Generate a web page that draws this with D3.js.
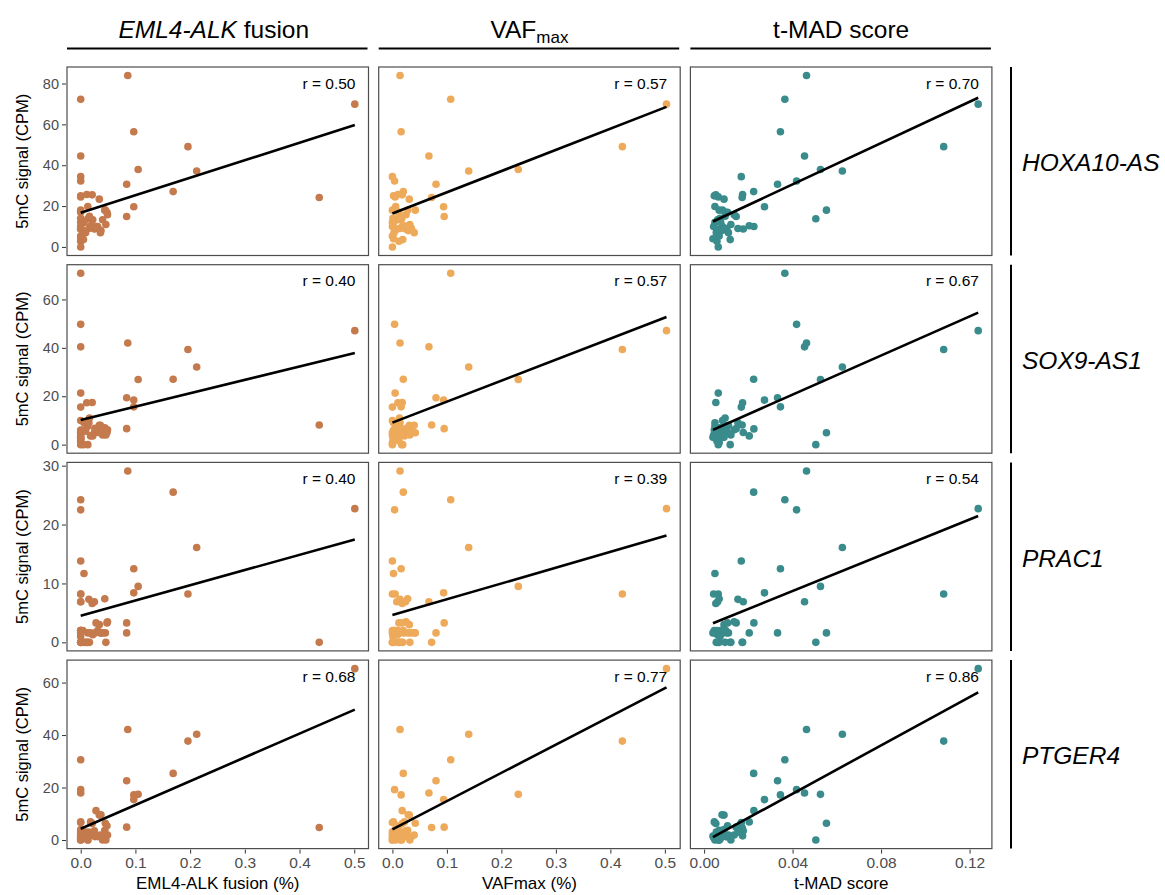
<!DOCTYPE html>
<html>
<head>
<meta charset="utf-8">
<script src="https://cdn.jsdelivr.net/npm/d3@7"></script>
<style>
  body { margin: 0; background: #fff; }
  text { font-family: "Liberation Sans", Arial, Helvetica, sans-serif; }
</style>
</head>
<body>
<svg id="chart" width="1165" height="895"></svg>
<script>
// ---- per-sample measurements (one entry per patient sample) ----
const emlAlk = [0.501,0.436,0,0.086,0.097,0.097,0.196,0.212,0.169,0.105,0.084,0.084,0,0,0,0.045,0.013,
  0,0,0,0,0.021,0.034,0.013,0.044,0.048,0.049,0.006,0.022,0.031,0.040,0.004,0,0,0,0,0.005,0,
  0.015,0.025,0.018,0.028,0.011,0.037,0.026,0.036,0,0,0.009,0,0.046,0.016,0];
const vafMax = [0.503,0.072,0.107,0.014,0.016,0.094,0.422,0.140,0.020,0.231,0.080,0.095,0.067,0.004,0,0.042,0.017,
  0.002,0.005,0,0.010,0.018,0.031,0.006,0.028,0.012,0.025,0.002,0.009,0.020,0.015,0.004,0,0.008,0,0.012,0.019,0,
  0.014,0.024,0.022,0.018,0.010,0.029,0.035,0.040,0,0.005,0.003,0.001,0.032,0.013,0.002];
const tmadScore = [0.1239,0.0172,0.0365,0.0463,0.0345,0.0273,0.1083,0.0625,0.0224,0.0526,0.0332,0.0145,0.0454,0.0418,0.0168,0.0553,0.0505,
  0.0046,0.0064,0.0083,0.0098,0.0053,0.0090,0.0049,0.0068,0.0106,0.0136,0.0049,0.0061,0.0083,0.0068,0.0058,0.0043,0.0061,0.0068,0.0058,0.0118,0.0064,
  0.0153,0.0177,0.0204,0.0225,0.0174,0.0081,0.0102,0.0110,0.0075,0.0090,0.0055,0.0072,0.0121,0.0095,0.0040];

// 5mC signal (CPM) per gene, same sample order
const hoxa10as = [69.9,24.2,72.3,83.9,56.4,19.7,49.1,37.2,27.1,37.9,30.7,14.9,44.5,32.3,34.4,18.0,13.8,
  25.0,24.5,18.0,17.0,25.5,23.4,19.8,18.0,17.0,15.8,12.0,13.3,10.0,13.3,8.0,10.0,8.6,5.3,2.8,3.6,0.0,
  9.0,8.8,10.4,10.0,25.7,8.0,9.0,7.0,12.0,9.0,7.0,14.0,11.0,15.0,4.0];
const sox9as1 = [47.1,8.1,70.8,42.0,15.6,18.4,39.3,32.1,27.0,26.9,19.4,6.6,40.4,49.7,15.5,4.9,0,
  6.0,21.3,10.0,5.0,17.4,8.0,7.6,7.0,5.0,6.1,9.0,3.6,5.0,4.0,6.0,4.0,2.0,0.8,1.5,0.0,0.0,
  9.0,5.0,3.6,6.5,17.3,7.0,6.7,8.0,5.0,3.0,5.5,2.5,4.0,11.0,3.0];
const prac1 = [22.7,0.0,24.2,29.1,12.5,8.4,8.2,16.1,25.5,9.5,1.6,3.3,6.9,22.5,13.8,1.6,0,
  2.0,8.2,1.6,2.0,6.6,3.0,1.6,7.4,3.3,3.5,11.7,1.3,2.0,1.6,2.0,8.2,6.9,0.0,0.0,0.0,0.0,
  7.3,6.9,1.6,3.3,0.0,1.6,1.6,1.6,2.0,2.0,0.0,1.0,0.0,0.0,1.6];
const ptger4 = [65.3,4.8,30.6,42.1,17.2,15.4,37.7,40.3,25.4,17.4,22.6,4.9,17.9,19.2,6.7,6.4,0,
  6.9,2.0,3.1,1.3,6.3,9.5,0.0,3.7,5.4,1.9,1.0,1.9,1.3,0.0,2.0,1.0,0.5,0.0,0.5,1.0,0.0,
  3.0,3.5,6.9,11.2,1.6,9.6,1.3,1.9,2.0,4.0,3.0,0.3,0.0,1.5,1.5];

// Pearson r printed in each panel (rows = genes, columns = predictors)
const rLabels = [
  ["0.50", "0.57", "0.70"],
  ["0.40", "0.57", "0.67"],
  ["0.40", "0.39", "0.54"],
  ["0.68", "0.77", "0.86"]
];

const geneNames = ["HOXA10-AS", "SOX9-AS1", "PRAC1", "PTGER4"];
const xAxisTitles = ["EML4-ALK fusion (%)", "VAFmax (%)", "t-MAD score"];
const yTickValues = [[0,20,40,60,80],[0,20,40,60],[0,10,20,30],[0,20,40,60]];
const xTickValues = [[0,0.1,0.2,0.3,0.4,0.5],[0,0.1,0.2,0.3,0.4,0.5],[0,0.04,0.08,0.12]];
const xTickFormats = [".1f", ".1f", ".2f"];

const predictors = [emlAlk, vafMax, tmadScore];
const genes = [hoxa10as, sox9as1, prac1, ptger4];
const colours = ["#C47A4D", "#EEAA5B", "#3A8B8B"];

// ---- layout ----
const svg = d3.select("#chart");
const left0 = 67, colStep = 311.7, panelW = 301.5;
const top0 = 67, rowStep = 197.7, panelH = 188.5;
const FONT = '"Liberation Sans", Arial, sans-serif';

// ggplot-style 5% expansion around [0, max]
const expand = arr => { const m = d3.max(arr); return [-0.05 * m, 1.05 * m]; };
const xScales = predictors.map((p, c) =>
  d3.scaleLinear().domain(expand(p)).range([left0 + c * colStep, left0 + c * colStep + panelW]));
const yScales = genes.map((g, r) =>
  d3.scaleLinear().domain(expand(g)).range([top0 + r * rowStep + panelH, top0 + r * rowStep]));

// ---- column headers ----
const headerG = svg.append("g");
xScales.forEach((xs, c) => {
  const [a, b] = xs.range();
  headerG.append("line").attr("x1", a).attr("x2", b - 1).attr("y1", 48.5).attr("y2", 48.5)
    .attr("stroke", "#000").attr("stroke-width", 2);
});
{
  const cx = c => (xScales[c].range()[0] + xScales[c].range()[1]) / 2;
  const t0 = headerG.append("text").attr("x", cx(0) - 4).attr("y", 37.5).attr("text-anchor", "middle")
    .attr("font-size", 24.5).attr("fill", "#000");
  t0.append("tspan").attr("font-style", "italic").text("EML4-ALK");
  t0.append("tspan").text(" fusion");
  const t1 = headerG.append("text").attr("x", cx(1)).attr("y", 37.5).attr("text-anchor", "middle")
    .attr("font-size", 24.5).attr("fill", "#000");
  t1.append("tspan").text("VAF");
  t1.append("tspan").attr("font-size", 17).attr("dy", 5).text("max");
  headerG.append("text").attr("x", cx(2)).attr("y", 37.5).attr("text-anchor", "middle")
    .attr("font-size", 24.5).attr("fill", "#000").text("t-MAD score");
}

// ---- panels ----
genes.forEach((g, r) => {
  const ys = yScales[r];
  predictors.forEach((p, c) => {
    const xs = xScales[c];
    const [x0, x1] = xs.range();
    const [yb, yt] = ys.range();
    const panel = svg.append("g");

    const pts = p.map((v, i) => ({ x: v, y: g[i] }));
    panel.selectAll("circle").data(pts).join("circle")
      .attr("cx", d => xs(d.x)).attr("cy", d => ys(d.y)).attr("r", 3.8)
      .attr("fill", colours[c]);

    // least-squares fit across the observed x range
    const mx = d3.mean(pts, d => d.x), my = d3.mean(pts, d => d.y);
    const sxy = d3.sum(pts, d => (d.x - mx) * (d.y - my));
    const sxx = d3.sum(pts, d => (d.x - mx) ** 2);
    const slope = sxy / sxx, icpt = my - slope * mx;
    const [lo, hi] = d3.extent(pts, d => d.x);
    panel.append("line")
      .attr("x1", xs(lo)).attr("y1", ys(icpt + slope * lo))
      .attr("x2", xs(hi)).attr("y2", ys(icpt + slope * hi))
      .attr("stroke", "#000").attr("stroke-width", 2.6);

    panel.append("rect").attr("x", x0).attr("y", yt).attr("width", x1 - x0).attr("height", yb - yt)
      .attr("fill", "none").attr("stroke", "#4d4d4d").attr("stroke-width", 1.2);

    panel.append("text").attr("x", x1 - 13).attr("y", yt + 21.5).attr("text-anchor", "end")
      .attr("font-size", 15.5).attr("fill", "#000").text("r = " + rLabels[r][c]);

    if (c === 0) {
      const ax = svg.append("g").attr("transform", `translate(${x0 - 1},0)`)
        .call(d3.axisLeft(ys).tickValues(yTickValues[r]).tickSize(4).tickPadding(3));
      ax.select(".domain").remove();
      ax.selectAll(".tick line").attr("stroke", "#333");
      ax.selectAll(".tick text").attr("fill", "#4d4d4d").attr("font-size", 14.5)
        .attr("font-family", FONT);
      svg.append("text")
        .attr("transform", `translate(28,${(yt + yb) / 2}) rotate(-90)`)
        .attr("text-anchor", "middle").attr("font-size", 16.5).attr("fill", "#000")
        .text("5mC signal (CPM)");
    }
    if (r === genes.length - 1) {
      const ax = svg.append("g").attr("transform", `translate(0,${yb + 1})`)
        .call(d3.axisBottom(xs).tickValues(xTickValues[c]).tickFormat(d3.format(xTickFormats[c]))
          .tickSize(4).tickPadding(3));
      ax.select(".domain").remove();
      ax.selectAll(".tick line").attr("stroke", "#333");
      ax.selectAll(".tick text").attr("fill", "#4d4d4d").attr("font-size", 15.5)
        .attr("font-family", FONT);
      svg.append("text").attr("x", (x0 + x1) / 2).attr("y", 889).attr("text-anchor", "middle")
        .attr("font-size", 17).attr("fill", "#000").text(xAxisTitles[c]);
    }
  });

  // row strip
  const [yb, yt] = ys.range();
  svg.append("line").attr("x1", 1011).attr("x2", 1011).attr("y1", yt).attr("y2", yb)
    .attr("stroke", "#000").attr("stroke-width", 2);
  svg.append("text").attr("x", 1022).attr("y", (yt + yb) / 2 + 10)
    .attr("font-size", 24.5).attr("font-style", "italic").attr("fill", "#000").text(geneNames[r]);
});
</script>
</body>
</html>
